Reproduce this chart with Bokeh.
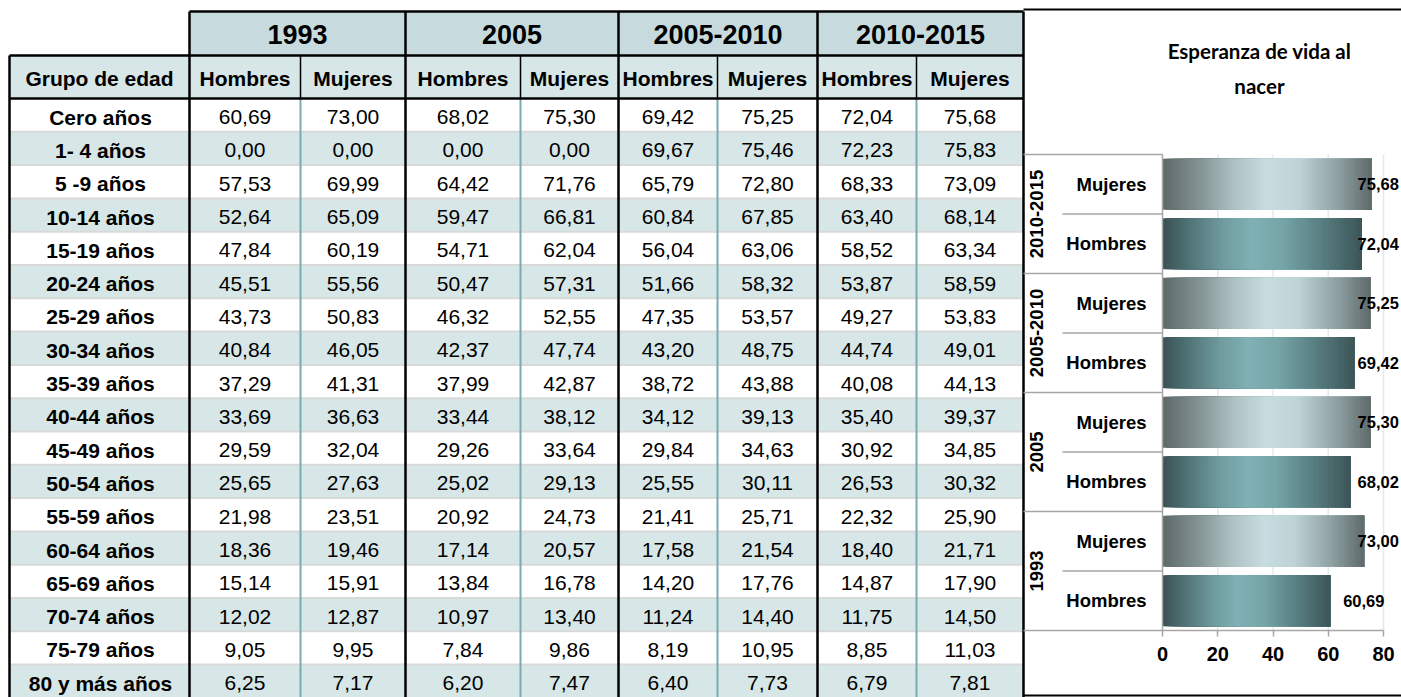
from bokeh.plotting import figure
from bokeh.models import Range1d, FixedTicker, LinearAxis
from bokeh.core.properties import value
from bokeh.embed import file_html
from bokeh.resources import INLINE

# ---------------- data ----------------
ages = ["Cero años", "1- 4 años", "5 -9 años", "10-14 años", "15-19 años", "20-24 años",
        "25-29 años", "30-34 años", "35-39 años", "40-44 años", "45-49 años", "50-54 años",
        "55-59 años", "60-64 años", "65-69 años", "70-74 años", "75-79 años", "80 y más años"]
periods = ["1993", "2005", "2005-2010", "2010-2015"]
sexes = ["Hombres", "Mujeres"]

hombres_1993 = [60.69, 0.00, 57.53, 52.64, 47.84, 45.51, 43.73, 40.84, 37.29, 33.69, 29.59, 25.65, 21.98, 18.36, 15.14, 12.02, 9.05, 6.25]
mujeres_1993 = [73.00, 0.00, 69.99, 65.09, 60.19, 55.56, 50.83, 46.05, 41.31, 36.63, 32.04, 27.63, 23.51, 19.46, 15.91, 12.87, 9.95, 7.17]
hombres_2005 = [68.02, 0.00, 64.42, 59.47, 54.71, 50.47, 46.32, 42.37, 37.99, 33.44, 29.26, 25.02, 20.92, 17.14, 13.84, 10.97, 7.84, 6.20]
mujeres_2005 = [75.30, 0.00, 71.76, 66.81, 62.04, 57.31, 52.55, 47.74, 42.87, 38.12, 33.64, 29.13, 24.73, 20.57, 16.78, 13.40, 9.86, 7.47]
hombres_0510 = [69.42, 69.67, 65.79, 60.84, 56.04, 51.66, 47.35, 43.20, 38.72, 34.12, 29.84, 25.55, 21.41, 17.58, 14.20, 11.24, 8.19, 6.40]
mujeres_0510 = [75.25, 75.46, 72.80, 67.85, 63.06, 58.32, 53.57, 48.75, 43.88, 39.13, 34.63, 30.11, 25.71, 21.54, 17.76, 14.40, 10.95, 7.73]
hombres_1015 = [72.04, 72.23, 68.33, 63.40, 58.52, 53.87, 49.27, 44.74, 40.08, 35.40, 30.92, 26.53, 22.32, 18.40, 14.87, 11.75, 8.85, 6.79]
mujeres_1015 = [75.68, 75.83, 73.09, 68.14, 63.34, 58.59, 53.83, 49.01, 44.13, 39.37, 34.85, 30.32, 25.90, 21.71, 17.90, 14.50, 11.03, 7.81]

series = [(hombres_1993, mujeres_1993), (hombres_2005, mujeres_2005),
          (hombres_0510, mujeres_0510), (hombres_1015, mujeres_1015)]

title_lines = ["Esperanza de vida al", "nacer"]
x_ticks = [0, 20, 40, 60, 80]


def fmt(v):
    return f"{v:.2f}".replace(".", ",")


FONT = value("Liberation Sans")
W, H = 1401, 697

p = figure(width=W, height=H, x_range=Range1d(0, W), y_range=Range1d(H, 0),
           x_axis_type=None, y_axis_type=None, toolbar_location=None, output_backend="svg",
           min_border=0, outline_line_color=None)
p.grid.visible = False

# ---------------- table (page pixel layout) ----------------
col_x = [9, 189, 300, 405, 520, 618, 717, 817, 916, 1023]
y_top, y_h1, y_h2 = 11, 55, 98
row_h = 33.3
y_bot = H

HEAD1 = "#c7dbde"
HEAD2 = "#d7e6e7"
ALT = "#d7e6e7"
TEAL = "#7aabb0"
SEP = "#d9d9d9"

ng = len(periods)
p.quad(left=[col_x[1 + 2 * g] for g in range(ng)], right=[col_x[3 + 2 * g] for g in range(ng)],
       top=y_top, bottom=y_h1, fill_color=HEAD1, line_color=None)
p.quad(left=[col_x[0]], right=[col_x[-1]], top=y_h1, bottom=y_h2, fill_color=HEAD2, line_color=None)
row_tops = [y_h2 + i * row_h for i in range(len(ages))]
p.quad(left=col_x[0], right=col_x[-1], top=row_tops, bottom=[r + row_h for r in row_tops],
       fill_color=["white" if i % 2 == 0 else ALT for i in range(len(ages))], line_color=None)
p.segment(x0=col_x[0], x1=col_x[-1], y0=row_tops[1:], y1=row_tops[1:], line_color=SEP, line_width=2)
mids = [col_x[2 + 2 * g] for g in range(ng)]
p.segment(x0=mids, x1=mids, y0=y_h2, y1=y_bot, line_color=TEAL, line_width=2)
p.segment(x0=mids, x1=mids, y0=y_h1, y1=y_h2, line_color="black", line_width=1.5)
groups = [col_x[1], col_x[3], col_x[5], col_x[7], col_x[9]]
p.segment(x0=groups, x1=groups, y0=y_top, y1=y_bot, line_color="black", line_width=2.5)
p.segment(x0=[col_x[0]], x1=[col_x[0]], y0=y_h1, y1=y_bot, line_color="black", line_width=2.5)
p.segment(x0=[col_x[1], col_x[0], col_x[0]], x1=[col_x[-1]] * 3, y0=[y_top, y_h1, y_h2],
          y1=[y_top, y_h1, y_h2], line_color="black", line_width=2.5)

p.text(x=[(col_x[1 + 2 * g] + col_x[3 + 2 * g]) / 2 for g in range(ng)],
       y=(y_top + y_h1) / 2 + 1, text=periods, text_align="center", text_baseline="middle",
       text_font=FONT, text_font_style="bold", text_font_size="27px", text_color="black")
hx = [(col_x[i] + col_x[i + 1]) / 2 for i in range(9)]
ht = ["Grupo de edad"] + sexes * ng
p.text(x=hx, y=(y_h1 + y_h2) / 2 + 1.5, text=ht, text_align="center", text_baseline="middle",
       text_font=FONT, text_font_style="bold", text_font_size="21px", text_color="black")
ymid = [r + row_h / 2 + 2 for r in row_tops]
p.text(x=(col_x[0] + col_x[1]) / 2 + 1, y=ymid, text=ages, text_align="center", text_baseline="middle",
       text_font=FONT, text_font_style="bold", text_font_size="21px", text_color="black")
vx, vy, vt = [], [], []
for g, (hs, ms) in enumerate(series):
    for s, vals in enumerate((hs, ms)):
        c = 1 + 2 * g + s
        for i, v in enumerate(vals):
            vx.append((col_x[c] + col_x[c + 1]) / 2)
            vy.append(ymid[i])
            vt.append(fmt(v))
p.text(x=vx, y=vy, text=vt, text_align="center", text_baseline="middle",
       text_font=FONT, text_font_size="21px", text_color="black")

# chart panel border (top / bottom), left edge is the table's right line
p.segment(x0=[col_x[-1], col_x[-1]], x1=[W, W], y0=[9, 695], y1=[9, 695], line_color="black", line_width=2)

# title
p.text(x=1259, y=[50, 85], text=title_lines, text_align="center", text_baseline="alphabetic",
       text_font=value("Lato"), text_font_style="bold", text_font_size="20.5px", text_color="black")

# ---------------- bar chart (own ranges) ----------------
x0_px, x80_px = 1162, 1383          # where 0 and 80 fall on the page
ytop_px, ybot_px = 154, 630         # top / bottom of the category area
ppu = (x80_px - x0_px) / 80.0
n_cat = 2 * ng
upp = n_cat / (ybot_px - ytop_px)
p.extra_x_ranges = {"cx": Range1d(-x0_px / ppu, 80 + (W - x80_px) / ppu)}
p.extra_y_ranges = {"cy": Range1d(-(H - ybot_px) * upp, n_cat + ytop_px * upp)}
CR = dict(x_range_name="cx", y_range_name="cy")

xaxis = LinearAxis(x_range_name="cx", y_range_name="cy", fixed_location=0,
                   ticker=FixedTicker(ticks=x_ticks))
xaxis.axis_line_color = None
xaxis.major_tick_line_color = "#a6a6a6"
xaxis.major_tick_line_width = 1.5
xaxis.major_tick_out = 6
xaxis.major_tick_in = 0
xaxis.minor_tick_line_color = None
xaxis.major_label_text_font = "Liberation Sans"
xaxis.major_label_text_font_style = "bold"
xaxis.major_label_text_font_size = "20px"
xaxis.major_label_text_color = "black"
xaxis.major_label_standoff = 10
p.add_layout(xaxis, "below")

# light gridlines
p.segment(x0=x_ticks[1:], x1=x_ticks[1:], y0=0, y1=n_cat, line_color="#e3eaec", line_width=1.5, **CR)


def lerp_color(stops, f):
    for (f0, c0), (f1, c1) in zip(stops, stops[1:]):
        if f <= f1:
            k = (f - f0) / (f1 - f0) if f1 > f0 else 0
            rgb = [round(a + (b - a) * k) for a, b in zip(c0, c1)]
            return "#%02x%02x%02x" % tuple(rgb)
    return "#%02x%02x%02x" % tuple(stops[-1][1])


grad = {
    "Hombres": [(0, (58, 80, 83)), (0.12, (78, 112, 115)), (0.3, (110, 155, 158)), (0.45, (128, 177, 180)),
                (0.6, (118, 165, 168)), (0.8, (88, 126, 129)), (1, (60, 85, 87))],
    "Mujeres": [(0, (93, 104, 104)), (0.15, (125, 140, 141)), (0.35, (175, 195, 197)), (0.5, (198, 220, 223)),
                (0.65, (190, 212, 215)), (0.85, (140, 157, 159)), (1, (95, 106, 106))],
}
N = 60
by, bl, br, bc = [], [], [], []
ly, lx, lt = [], [], []
for g, (hs, ms) in enumerate(series):
    for s, vals in enumerate((hs, ms)):
        v = vals[0]
        yy = 2 * g + s + 0.5
        for i in range(N):
            by.append(yy)
            bl.append(v * i / N)
            br.append(v)
            bc.append(lerp_color(grad[sexes[s]], (i + 0.5) / N))
        ly.append(yy)
        lx.append(min(v + 13 / ppu, 70.6))
        lt.append(fmt(v))

p.hbar(y=by, left=bl, right=br, height=0.86, fill_color=bc, line_color=None, **CR)

# category-axis separators
sep_col = "#a6a6a6"
xl = (col_x[-1] - x0_px) / ppu
xs = (1062 - x0_px) / ppu
p.segment(x0=xl, x1=0, y0=[2 * g for g in range(1, ng + 1)], y1=[2 * g for g in range(1, ng + 1)],
          line_color=sep_col, line_width=1.5, **CR)
p.segment(x0=xs, x1=0, y0=[2 * g + 1 for g in range(ng)], y1=[2 * g + 1 for g in range(ng)],
          line_color=sep_col, line_width=1.5, **CR)
p.segment(x0=[xl, 0], x1=[80, 0], y0=[0, 0], y1=[0, n_cat], line_color=sep_col, line_width=1.5, **CR)

# category labels
p.text(x=0, y=[2 * g + s + 0.5 for g in range(ng) for s in range(2)],
       text=[sx for g in range(ng) for sx in sexes], x_offset=-16,
       text_align="right", text_baseline="middle", text_font=FONT, text_font_style="bold",
       text_font_size="18.5px", text_color="black", **CR)
p.text(x=xl, y=[2 * g + 1 for g in range(ng)], text=periods, x_offset=13, angle=1.5707963,
       text_align="center", text_baseline="middle", text_font=FONT, text_font_style="bold",
       text_font_size="18.5px", text_color="black", **CR)
# value labels
p.text(x=lx, y=ly, text=lt, text_align="left", text_baseline="middle", text_font=FONT,
       text_font_style="bold", text_font_size="16.5px", text_color="black", **CR)

open("out.html", "w").write(file_html(p, INLINE))
